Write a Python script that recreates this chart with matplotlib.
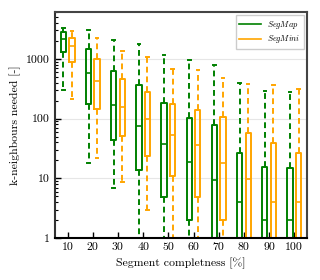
import matplotlib
matplotlib.use('Agg')
import matplotlib.pyplot as plt
from matplotlib.lines import Line2D
import matplotlib.ticker as mticker

plt.rcParams['font.family'] = 'serif'
plt.rcParams['font.serif'] = ['cmr10']
plt.rcParams['mathtext.fontset'] = 'cm'
plt.rcParams['axes.formatter.use_mathtext'] = True

completeness = [10, 20, 30, 40, 50, 60, 70, 80, 90, 100]

# SegMap box stats (values below 1 are clipped by the axis)
map_whislo = [302, 17.8, 7.0, 0.5, 0.5, 0.5, 0.5, 0.5, 0.5, 0.5]
map_q1 = [1277, 174, 44.5, 13.8, 4.9, 2.0, 0.8, 0.8, 0.8, 0.8]
map_med = [2160, 568, 169, 76, 38, 18.5, 9.4, 4.0, 2.0, 2.0]
map_q3 = [2800, 1452, 630, 367, 181, 104, 78, 26.2, 15.7, 14.7]
map_whishi = [3270, 2985, 2055, 1738, 1166, 962, 793, 401, 284, 273]

# SegMini box stats
mini_whislo = [214, 21.9, 8.8, 2.94, 0.5, 0.5, 0.5, 0.5, 0.5, 0.5]
mini_q1 = [868, 147, 51.9, 23.7, 10.9, 4.9, 2.0, 0.8, 0.8, 0.8]
mini_med = [1610, 433, 159, 100, 54, 35.7, 17.8, 9.9, 4.0, 4.0]
mini_q3 = [2220, 1000, 456, 273, 178, 141, 108, 56.8, 38.6, 26.2]
mini_whishi = [2870, 2190, 1327, 1081, 680, 654, 480, 376, 371, 310]


def make_stats(lo, q1, med, q3, hi):
    return [dict(whislo=a, q1=b, med=c, q3=d, whishi=e, fliers=[])
            for a, b, c, d, e in zip(lo, q1, med, q3, hi)]


fig = plt.figure(figsize=(3.2, 2.8), dpi=100)
ax = fig.add_axes([0.172, 0.15, 0.787, 0.806])

pos = list(range(1, len(completeness) + 1))
offset = 0.17
width = 0.21

for stats, color, sign in [
        (make_stats(map_whislo, map_q1, map_med, map_q3, map_whishi), 'green', -1),
        (make_stats(mini_whislo, mini_q1, mini_med, mini_q3, mini_whishi), 'orange', 1)]:
    ax.bxp(stats, positions=[p + sign * offset for p in pos], widths=width,
           capwidths=0.1, showfliers=False,
           boxprops=dict(color=color, linewidth=1.4),
           medianprops=dict(color=color, linewidth=1.2),
           whiskerprops=dict(color=color, linewidth=1.4, linestyle=(0, (3, 2))),
           capprops=dict(color=color, linewidth=1.4))

ax.set_yscale('log')
ax.set_ylim(1, 6000)
ax.set_xlim(0.5, 10.5)
ax.set_xticks(pos)
ax.set_xticklabels([str(c) for c in completeness])
ax.yaxis.set_major_locator(mticker.FixedLocator([1, 10, 100, 1000]))
ax.yaxis.set_major_formatter(mticker.FixedFormatter(['1', '10', '100', '1000']))
ax.yaxis.grid(True, which='major', color='#e6e6e6', linewidth=0.8)
ax.set_axisbelow(True)

ax.tick_params(axis='both', which='both', direction='in', labelsize=8.5)
ax.tick_params(axis='both', which='major', length=4, width=1)
ax.tick_params(axis='y', which='minor', length=2.5, width=0.8)
ax.tick_params(axis='x', which='minor', bottom=False)

ax.spines['bottom'].set_color('black')
ax.spines['left'].set_color('#333333')
for side in ['top', 'right']:
    ax.spines[side].set_color('#444444')
for side in ['left', 'bottom', 'top', 'right']:
    ax.spines[side].set_linewidth(1.5)

ax.set_xlabel('Segment completness [%]', fontsize=8.5)
ax.set_ylabel('k-neighbours needed [-]', fontsize=8.5)

handles = [Line2D([], [], color='green', linewidth=1.2),
           Line2D([], [], color='orange', linewidth=1.2)]
ax.legend(handles, ['$SegMap$', '$SegMini$'], loc='upper right', fontsize=6,
          frameon=True, edgecolor='#cccccc', framealpha=1, handlelength=2.6,
          labelspacing=0.35, borderpad=0.4, borderaxespad=0.35, fancybox=False)

fig.savefig('out.png', dpi=100)
